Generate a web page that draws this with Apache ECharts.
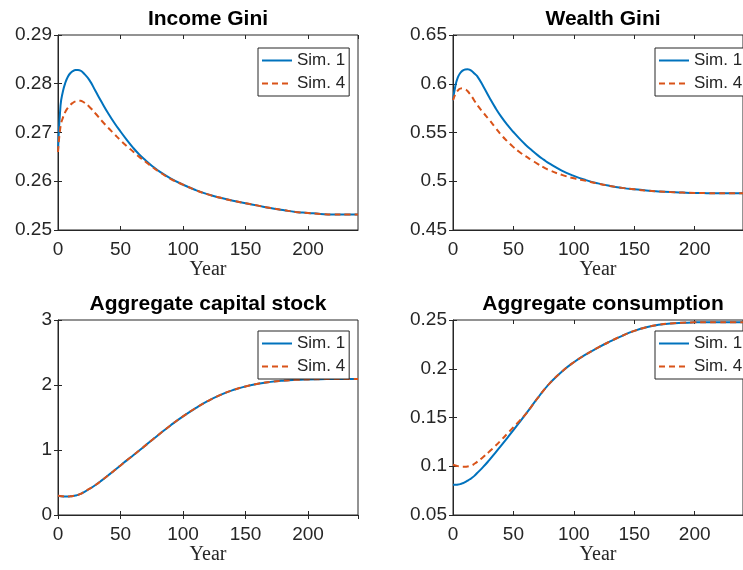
<!DOCTYPE html>
<html>
<head>
<meta charset="utf-8">
<script src="https://cdn.jsdelivr.net/npm/echarts@6/dist/echarts.min.js"></script>
<style>
html,body{margin:0;padding:0;background:#fff;}
#chart{width:743px;height:570px;}
</style>
</head>
<body>
<div id="chart"></div>
<script>
// ---- data ----
var years = [0,2,4,6,8,10,12,14,16,18,20,25,30,35,40,45,50,55,60,65,70,75,80,90,100,110,120,130,140,150,160,170,180,190,200,210,220,230,240];
var titles = ['Income Gini','Wealth Gini','Aggregate capital stock','Aggregate consumption'];
var seriesNames = ['Sim. 1','Sim. 4'];

var incomeSim1 = [0.2660,0.2755,0.2785,0.2803,0.2815,0.2822,0.2826,0.2828,0.2828,0.2827,0.2823,0.2808,0.2785,0.2762,0.2740,0.2720,0.2702,0.2685,0.2669,0.2655,0.2643,0.2632,0.2622,0.2606,0.2593,0.2582,0.2573,0.2566,0.2560,0.2555,0.2550,0.2545,0.2541,0.2537,0.2535,0.2533,0.2532,0.2532,0.2532];
var incomeSim4 = [0.2660,0.2712,0.2731,0.2743,0.2751,0.2757,0.2761,0.2764,0.2765,0.2765,0.2763,0.2753,0.2739,0.2724,0.2710,0.2697,0.2684,0.2672,0.2661,0.2650,0.2640,0.2630,0.2621,0.2605,0.2593,0.2582,0.2573,0.2566,0.2560,0.2555,0.2550,0.2545,0.2541,0.2537,0.2535,0.2533,0.2532,0.2532,0.2532];

var wealthSim1 = [0.583,0.598,0.6065,0.611,0.6135,0.6147,0.6149,0.6142,0.6125,0.6102,0.6078,0.5975,0.5862,0.5755,0.5660,0.5578,0.5505,0.5437,0.5375,0.5320,0.5268,0.5222,0.5180,0.5110,0.5055,0.5012,0.4978,0.4952,0.4932,0.4917,0.4905,0.4896,0.4889,0.4884,0.4880,0.4878,0.4877,0.4876,0.4876];
var wealthSim4 = [0.583,0.5895,0.593,0.595,0.5953,0.5945,0.5925,0.5895,0.586,0.582,0.5782,0.5705,0.563,0.5552,0.5474,0.5410,0.5350,0.5300,0.5257,0.5218,0.5178,0.5142,0.5112,0.5066,0.5030,0.5004,0.4976,0.4952,0.4932,0.4917,0.4905,0.4896,0.4889,0.4884,0.4880,0.4878,0.4877,0.4876,0.4876];

var capitalSim1 = [0.295,0.290,0.286,0.284,0.284,0.287,0.292,0.299,0.309,0.324,0.345,0.400,0.462,0.532,0.607,0.685,0.762,0.840,0.916,0.993,1.071,1.150,1.228,1.378,1.518,1.643,1.755,1.848,1.922,1.978,2.020,2.048,2.067,2.079,2.086,2.090,2.092,2.093,2.093];
var capitalSim4 = [0.295,0.291,0.287,0.285,0.285,0.288,0.293,0.300,0.310,0.325,0.346,0.401,0.462,0.532,0.607,0.685,0.762,0.840,0.916,0.993,1.071,1.150,1.228,1.378,1.518,1.643,1.755,1.848,1.922,1.978,2.020,2.048,2.067,2.079,2.086,2.090,2.092,2.093,2.093];

var consSim1 = [0.0810,0.0810,0.0812,0.0817,0.0826,0.0838,0.0852,0.0867,0.0884,0.0905,0.0930,0.0993,0.1063,0.1138,0.1215,0.1292,0.1370,0.1450,0.1532,0.1615,0.1698,0.1777,0.1850,0.1970,0.2067,0.2147,0.2217,0.2280,0.2338,0.2388,0.2426,0.2451,0.2465,0.2472,0.2476,0.2478,0.2478,0.2478,0.2478];
var consSim4 = [0.1015,0.1008,0.1001,0.0996,0.0994,0.0995,0.0998,0.1003,0.1010,0.1028,0.1045,0.1095,0.1150,0.1208,0.1270,0.1335,0.1400,0.1465,0.1533,0.1615,0.1698,0.1777,0.1850,0.1970,0.2067,0.2147,0.2217,0.2280,0.2338,0.2388,0.2426,0.2451,0.2465,0.2472,0.2476,0.2478,0.2478,0.2478,0.2478];

var xTicks = {min:0, max:240, interval:50};
var yRanges = [
  {min:0.25, max:0.29, interval:0.01},
  {min:0.45, max:0.65, interval:0.05},
  {min:0, max:3, interval:1},
  {min:0.05, max:0.25, interval:0.05}
];
var panelData = [[incomeSim1,incomeSim4],[wealthSim1,wealthSim4],[capitalSim1,capitalSim4],[consSim1,consSim4]];

// ---- layout ----
var grids = [
  {left:58, top:35, width:300, height:195},
  {left:453, top:35, width:300, height:195},
  {left:58, top:320, width:300, height:195},
  {left:453, top:320, width:300, height:195}
];
var legendPos = [
  {left:258, top:48},
  {left:655, top:48},
  {left:258, top:331},
  {left:655, top:331}
];
var titleTop = [9, 9, 294, 294];

var TXT = '#262626';
var FONT = '"Liberation Sans", Arial, sans-serif';
var colors = ['#0072BD', '#D95319'];

var option = {
  backgroundColor: '#fff',
  animation: false,
  title: [], grid: [], xAxis: [], yAxis: [], legend: [], series: []
};

for (var i = 0; i < 4; i++) {
  var g = grids[i];
  option.grid.push({left:g.left, top:g.top, width:g.width, height:g.height,
    show:true, borderColor:TXT, borderWidth:1, backgroundColor:'#fff', containLabel:false});
  option.title.push({text:titles[i], left:g.left + g.width/2, top:titleTop[i], textAlign:'center', padding:0,
    textStyle:{fontFamily:FONT, fontSize:21, fontWeight:'bold', color:'#000'}});
  option.xAxis.push({type:'value', gridIndex:i, position:'bottom', min:xTicks.min, max:xTicks.max, interval:xTicks.interval,
    name:'Year', nameLocation:'middle', nameGap:30,
    nameTextStyle:{fontFamily:'"Liberation Serif", "Times New Roman", serif', fontSize:20, color:TXT},
    axisLine:{lineStyle:{color:TXT, width:1}},
    axisTick:{inside:true, length:4, lineStyle:{color:TXT}},
    axisLabel:{fontFamily:FONT, fontSize:19, color:TXT, margin:10, showMaxLabel:false},
    splitLine:{show:false}});
  var yr = yRanges[i];
  option.yAxis.push({type:'value', gridIndex:i, position:'left', min:yr.min, max:yr.max, interval:yr.interval,
    axisLine:{show:true, lineStyle:{color:TXT, width:1}},
    axisTick:{show:true, inside:true, length:4, lineStyle:{color:TXT}},
    axisLabel:{fontFamily:FONT, fontSize:19, color:TXT, margin:6,
      formatter:function(v){ return String(parseFloat(v.toFixed(4))); }},
    splitLine:{show:false}});
  option.legend.push({data:seriesNames, orient:'vertical', left:legendPos[i].left, top:legendPos[i].top,
    itemWidth:30, itemHeight:14, itemGap:6, padding:[4,4,4,3],
    itemStyle:{opacity:0},
    backgroundColor:'#fff', borderColor:TXT, borderWidth:1, borderRadius:0,
    textStyle:{fontFamily:FONT, fontSize:17, color:TXT}, selectedMode:false});
  for (var s = 0; s < 2; s++) {
    var vals = panelData[i][s];
    var pts = years.map(function(y, k){ return [y, vals[k]]; });
    option.series.push({name:seriesNames[s], type:'line', xAxisIndex:i, yAxisIndex:i,
      data:pts, showSymbol:false, symbol:'none', smooth:0.5,
      lineStyle:{color:colors[s], width:2, type: s === 0 ? 'solid' : [6,4]},
      itemStyle:{color:colors[s]}, z: s === 0 ? 2 : 3});
  }
}
// mirrored ticks on top / right (box style axes)
for (var j = 0; j < 4; j++) {
  var yr2 = yRanges[j];
  option.xAxis.push({type:'value', gridIndex:j, position:'top', min:xTicks.min, max:xTicks.max, interval:xTicks.interval,
    axisLine:{show:false}, axisTick:{inside:true, length:4, lineStyle:{color:TXT}},
    axisLabel:{show:false}, splitLine:{show:false}});
  option.yAxis.push({type:'value', gridIndex:j, position:'right', min:yr2.min, max:yr2.max, interval:yr2.interval,
    axisLine:{show:false}, axisTick:{show:true, inside:true, length:4, lineStyle:{color:TXT}},
    axisLabel:{show:false}, splitLine:{show:false}});
}

var chart = echarts.init(document.getElementById('chart'), null, {renderer:'canvas'});
chart.setOption(option);
</script>
</body>
</html>
